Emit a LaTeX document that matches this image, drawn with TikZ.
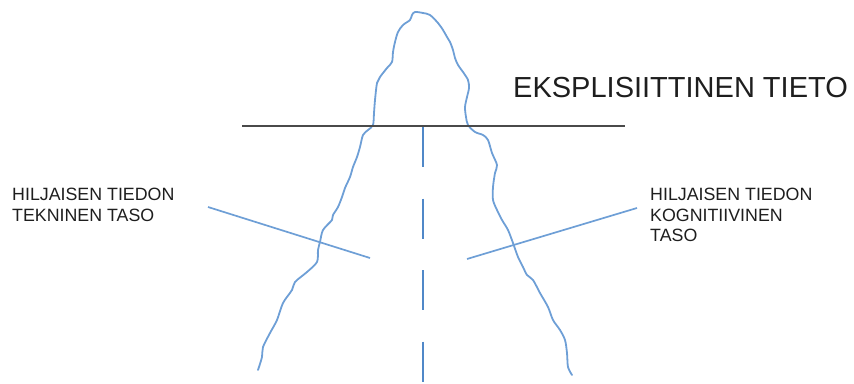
\documentclass[tikz,border=0pt]{standalone}
\usepackage{fontspec}
\setmainfont{Liberation Sans}
\definecolor{berg}{HTML}{6E9FD6}
\definecolor{dashblue}{HTML}{5088C8}
\definecolor{txt}{HTML}{1E1E1E}
\definecolor{seaLine}{HTML}{4A4A4A}
\tikzset{
  bergline/.style={draw=berg, line width=1.8pt, line join=round, line cap=round},
  pointer/.style={draw=berg, line width=1.7pt},
  waterline/.style={draw=seaLine, line width=2pt},
  divider/.style={draw=dashblue, line width=1.9pt, dash pattern=on 40pt off 31.5pt},
  labeltxt/.style={anchor=north west, inner sep=0pt, align=left, text=txt, font=\fontsize{17.8}{20.5}\selectfont},
  titletxt/.style={anchor=north west, inner sep=0pt, text=txt, font=\fontsize{29}{32}\selectfont}
}
\begin{document}
\begin{tikzpicture}[x=1pt, y=-1pt]
\useasboundingbox (0,0) rectangle (854,383);
% iceberg outline
\draw[bergline] plot[smooth, tension=0.5] coordinates {
 (258,370) (262,357) (263,347) (270,333) (277,320) (283,303) (292,290) (295,282)
 (307,272) (317,262) (318,250) (320,242) (323,230) (332,220) (333,215) (338,207)
 (342,197) (345,188) (350,177) (353,167) (357,157) (360,147) (363,135) (368,130)
 (373,125) (374,113) (375,100) (377,83) (380,77) (387,68) (392,62) (393,52)
 (395,42) (398,32) (403,25) (410,20) (412,15) (415,12) (423,13) (430,15)
 (438,23) (443,30) (447,37) (450,42) (453,50) (455,58) (458,65) (463,72)
 (468,80) (469,88) (467,97) (465,107) (466,117) (468,125) (475,132) (483,135)
 (488,140) (492,153) (497,165) (495,173) (493,187) (493,200) (497,210) (502,220)
 (508,230) (513,243) (518,257) (523,267) (527,275) (533,280) (540,293) (548,307)
 (553,320) (560,330) (565,340) (567,353) (568,367) (572,375)};
% water line
\coordinate (wl) at (242,126);
\coordinate (wr) at (625,126);
\draw[waterline] (wl) -- (wr);
% dashed divider
\coordinate (dtop) at (423,127);
\coordinate (dbot) at (423,382);
\draw[divider] (dtop) -- (dbot);
% labels
\node[titletxt] (expl) at (513,77) {EKSPLISIITTINEN TIETO};
\node[labeltxt] (tech) at (12,188) {HILJAISEN TIEDON\\TEKNINEN TASO};
\node[labeltxt] (cogn) at (650,188) {HILJAISEN TIEDON\\KOGNITIIVINEN\\TASO};
% pointers
\coordinate (ls) at (208,207);
\coordinate (le) at (370,258);
\coordinate (rs) at (637,208);
\coordinate (re) at (467,259);
\draw[pointer] (ls) -- (le);
\draw[pointer] (rs) -- (re);
\end{tikzpicture}
\end{document}
